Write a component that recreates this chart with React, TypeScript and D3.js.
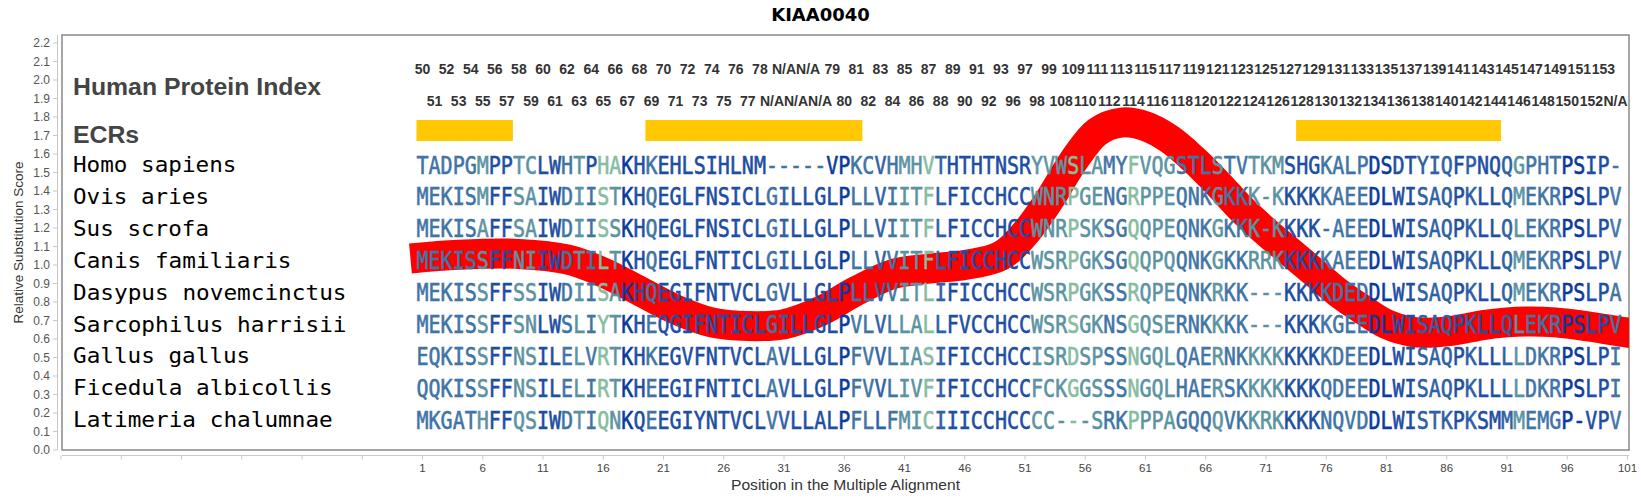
import React from "react";
import * as d3 from "d3";

const chartTitle = "KIAA0040";
const yAxisTitle = "Relative Substitution Score";
const xAxisTitle = "Position in the Multiple Alignment";
const headerLabels = ["Human Protein Index", "ECRs"];

const speciesNames = [
  "Homo sapiens",
  "Ovis aries",
  "Sus scrofa",
  "Canis familiaris",
  "Dasypus novemcinctus",
  "Sarcophilus harrisii",
  "Gallus gallus",
  "Ficedula albicollis",
  "Latimeria chalumnae",
];

const sequences = [
  "TADPGMPPTCLWHTPHAKHKEHLSIHLNM-----VPKCVHMHVTHTHTNSRYVWSLAMYFVQGSTLSTVTKMSHGKALPDSDTYIQFPNQQGPHTPSIP-",
  "MEKISMFFSAIWDIISTKHQEGLFNSICLGILLGLPLLVIITFLFICCHCCWNRPGENGRPPEQNKGKKK-KKKKKAEEDLWISAQPKLLQMEKRPSLPV",
  "MEKISAFFSAIWDIISSKHQEGLFNSICLGILLGLPLLVIITFLFICCHCCWNRPSKSGQQPEQNKGKKK-KKKK-AEEDLWISAQPKLLQLEKRPSLPV",
  "MEKISSFFNIIWDTILTKHQEGLFNTICLGILLGLPLLVVITFLFICCHCCWSRPGKSGQQPQQNKGKKRRKKKKKAEEDLWISAQPKLLQMEKRPSLPV",
  "MEKISSFFSSIWDIISAKHQEGIFNTVCLGVLLGLPLLVVITLIFICCHCCWSRPGKSSRQPEQNKRKK---KKKKDEDDLWISAQPKLLQMEKRPSLPA",
  "MEKISSFFSNLWSLIYTKHEQGIFNTICLGILLGLPVLVLLALLFVCCHCCWSRSGKNSGQSERNKKKK---KKKKGEEDLWISAQPKLLQLEKRPSLPV",
  "EQKISSFFNSILELVRTKHKEGVFNTVCLAVLLGLPFVVLIASIFICCHCCISRDSPSSNGQLQAERNKKKKKKKKDEEDLWISAQPKLLLLDKRPSLPI",
  "QQKISSFFNSILELIRTKHEEGIFNTICLAVLLGLPFVVLIVFIFICCHCCFCKGGSSSNGQLHAERSKKKKKKKQDEEDLWISAQPKLLLLDKRPSLPI",
  "MKGATHFFQSIWDTIQNKQEEGIYNTVCLVVLLALPFLLFMICIIICCHCCCC---SRKPPPAGQQQVKKRKKKKNQVDDLWISTKPKSMMMEMGP-VPV",
];

// Human protein index label for every alignment column (1..100)
const humanIndex = [
  "50", "51", "52", "53", "54", "55", "56", "57", "58", "59",
  "60", "61", "62", "63", "64", "65", "66", "67", "68", "69",
  "70", "71", "72", "73", "74", "75", "76", "77", "78", "N/A",
  "N/A", "N/A", "N/A", "N/A", "79", "80", "81", "82", "83", "84",
  "85", "86", "87", "88", "89", "90", "91", "92", "93", "96",
  "97", "98", "99", "108", "109", "110", "111", "112", "113", "114",
  "115", "116", "117", "118", "119", "120", "121", "122", "123", "124",
  "125", "126", "127", "128", "129", "130", "131", "132", "133", "134",
  "135", "136", "137", "138", "139", "140", "141", "142", "143", "144",
  "145", "146", "147", "148", "149", "150", "151", "152", "153", "N/A",
];

// Evolutionarily conserved regions (alignment columns, inclusive)
const ecrStarts = [1, 20, 74];
const ecrEnds = [8, 37, 90];

// Conservation level per alignment column (0 = most conserved)
const columnLevels = [
  3, 3, 3, 3, 3, 4, 1, 1, 4, 4,
  1, 1, 3, 4, 3, 5, 4, 0, 1, 3,
  1, 1, 1, 1, 1, 1, 1, 1, 1, 3,
  2, 1, 1, 1, 1, 0, 3, 3, 2, 3,
  4, 4, 5, 2, 1, 1, 1, 1, 1, 1,
  1, 4, 4, 4, 5, 4, 4, 3, 3, 5,
  4, 4, 4, 3, 3, 3, 4, 3, 3, 4,
  4, 4, 1, 1, 1, 3, 3, 3, 3, 0,
  0, 1, 1, 2, 2, 2, 1, 2, 1, 1,
  2, 4, 3, 3, 3, 0, 0, 1, 1, 3,
];
const humanOverrideCols = [15, 17, 31, 32, 33, 34, 35];
const humanOverrideLevels = [1, 5, 3, 3, 3, 3, 0];
const levelColors = ["#0a3a9e", "#1d4ea3", "#2d60a6", "#3f74a5", "#5b93a2", "#86bd9f"];

// Relative substitution score curve
const curvePositions = [0, 4, 9, 13, 16, 19, 22, 25, 28, 31, 34, 37, 40, 43, 46, 49, 51, 53, 55, 57, 59, 61, 63, 65, 67, 69, 71, 73, 75, 77, 79, 81, 83, 85, 87, 89, 91, 93, 95, 97, 99, 101, 103];
const curveScores = [1.035, 1.055, 1.06, 1.03, 0.96, 0.86, 0.76, 0.69, 0.67, 0.68, 0.75, 0.86, 0.95, 0.98, 1.0, 1.05, 1.17, 1.35, 1.56, 1.72, 1.77, 1.75, 1.68, 1.57, 1.44, 1.3, 1.18, 1.07, 0.96, 0.85, 0.76, 0.68, 0.64, 0.635, 0.65, 0.675, 0.69, 0.695, 0.69, 0.675, 0.655, 0.635, 0.62];

const yTickValues = [0, 0.1, 0.2, 0.3, 0.4, 0.5, 0.6, 0.7, 0.8, 0.9, 1.0, 1.1, 1.2, 1.3, 1.4, 1.5, 1.6, 1.7, 1.8, 1.9, 2.0, 2.1, 2.2];
const xTickValues = [1, 6, 11, 16, 21, 26, 31, 36, 41, 46, 51, 56, 61, 66, 71, 76, 81, 86, 91, 96, 101];
const xMinorTicks = [-29, -24, -19, -14, -9, -4];

export default function App() {
  const W = 1641;
  const H = 500;
  const box = { left: 62, top: 35, right: 1629, bottom: 450 };
  const step = 12.05;
  const x = d3.scaleLinear().domain([1, 101]).range([422.5, 422.5 + 100 * step]);
  const y = d3.scaleLinear().domain([0, 2.2]).range([450, 43]);

  const rowBase = (i: number) => 172 + 31.9 * i;
  const seqBase = (i: number) => 173.5 + 31.9 * i;

  const curveData = curvePositions.map((p, i) => [p, curveScores[i]] as [number, number]);
  const line = d3
    .line<[number, number]>()
    .x((d) => x(d[0]))
    .y((d) => y(d[1]))
    .curve(d3.curveCatmullRom.alpha(0.5));

  const levelFor = (row: number, col: number) => {
    if (row === 0) {
      const k = humanOverrideCols.indexOf(col);
      if (k >= 0) return humanOverrideLevels[k];
    }
    return columnLevels[col - 1];
  };

  return (
    <svg
      width={W}
      height={H}
      style={{ position: "absolute", left: 0, top: 0, background: "#fff" }}
      xmlns="http://www.w3.org/2000/svg"
    >
      <defs>
        <clipPath id="plotClip">
          <rect x={box.left} y={box.top} width={box.right - box.left} height={box.bottom - box.top} />
        </clipPath>
      </defs>
      <rect x={0} y={0} width={W} height={H} fill="#fff" />

      {/* title */}
      <text
        x={W / 2}
        y={21}
        textAnchor="middle"
        fontFamily="DejaVu Sans, sans-serif"
        fontWeight="bold"
        fontSize={18}
        fill="#000"
      >
        {chartTitle}
      </text>

      {/* y axis */}
      <line x1={57.5} x2={57.5} y1={box.top} y2={box.bottom} stroke="#c8c8c8" strokeWidth={1} />
      {yTickValues.map((v) => (
        <g key={"yt" + v}>
          <line x1={53} x2={57.5} y1={y(v)} y2={y(v)} stroke="#c8c8c8" />
          <text
            x={50}
            y={y(v) + 4.3}
            textAnchor="end"
            fontFamily="Liberation Sans, Arial, sans-serif"
            fontSize={12}
            fill="#555"
          >
            {v.toFixed(1)}
          </text>
        </g>
      ))}
      <text
        transform={`translate(23, ${(box.top + box.bottom) / 2}) rotate(-90)`}
        textAnchor="middle"
        fontFamily="Liberation Sans, Arial, sans-serif"
        fontSize={13.5}
        fill="#333"
      >
        {yAxisTitle}
      </text>

      {/* x axis */}
      <line x1={box.left} x2={box.right} y1={455.5} y2={455.5} stroke="#c8c8c8" />
      {[...xMinorTicks, ...xTickValues].map((p) => (
        <line key={"xt" + p} x1={x(p)} x2={x(p)} y1={455.5} y2={459.5} stroke="#c8c8c8" />
      ))}
      {xTickValues.map((p) => (
        <text
          key={"xl" + p}
          x={x(p)}
          y={472}
          textAnchor="middle"
          fontFamily="Liberation Sans Narrow, Liberation Sans, Arial, sans-serif"
          fontSize={11.5}
          fill="#444"
        >
          {p}
        </text>
      ))}
      <text
        x={(box.left + box.right) / 2}
        y={490}
        textAnchor="middle"
        fontFamily="Liberation Sans Narrow, Liberation Sans, Arial, sans-serif"
        fontSize={14.5}
        textLength={229}
        lengthAdjust="spacingAndGlyphs"
        fill="#333"
      >
        {xAxisTitle}
      </text>

      {/* plot frame */}
      <rect
        x={box.left}
        y={box.top}
        width={box.right - box.left}
        height={box.bottom - box.top}
        fill="#fff"
        stroke="#888"
        strokeWidth={1.5}
      />

      {/* header labels */}
      <text x={73} y={95} fontFamily="Liberation Sans, Arial, sans-serif" fontWeight="bold" fontSize={24.8} fill="#444">
        {headerLabels[0]}
      </text>
      <text x={73} y={143} fontFamily="Liberation Sans, Arial, sans-serif" fontWeight="bold" fontSize={24.8} fill="#444">
        {headerLabels[1]}
      </text>

      {/* human protein index */}
      {humanIndex.map((lab, i) => (
        <text
          key={"hi" + i}
          x={x(i + 1)}
          y={i % 2 === 0 ? 74 : 106}
          textAnchor="middle"
          fontFamily="Liberation Sans, Arial, sans-serif"
          fontWeight="bold"
          fontSize={14}
          fill="#333"
        >
          {lab}
        </text>
      ))}

      {/* ECR bars */}
      {ecrStarts.map((s, i) => (
        <rect
          key={"ecr" + i}
          x={x(s) - step / 2}
          y={120}
          width={x(ecrEnds[i]) - x(s) + step}
          height={21}
          fill="#ffc800"
        />
      ))}

      {/* substitution curve */}
      <g clipPath="url(#plotClip)">
        <path d={line(curveData) || ""} fill="none" stroke="#ff0000" strokeWidth={30} strokeLinejoin="round" />
      </g>

      {/* species names */}
      {speciesNames.map((name, i) => (
        <text
          key={"sp" + i}
          x={73}
          y={rowBase(i)}
          fontFamily="DejaVu Sans Mono, monospace"
          fontSize={21}
          textLength={name.length * 13.75 - 1.5}
          lengthAdjust="spacingAndGlyphs"
          fill="#000"
        >
          {name}
        </text>
      ))}

      {/* sequences */}
      {sequences.map((seq, r) =>
        seq.split("").map((ch, c) => {
          const col = levelColors[levelFor(r, c + 1)];
          return (
            <text
              key={"s" + r + "_" + c}
              x={x(c + 1) - step / 2}
              y={seqBase(r)}
              fontFamily="DejaVu Sans Mono, monospace"
              fontSize={24}
              textLength={step}
              lengthAdjust="spacingAndGlyphs"
              fill={col}
              stroke={col}
              strokeWidth={0.6}
            >
              {ch}
            </text>
          );
        })
      )}
    </svg>
  );
}
